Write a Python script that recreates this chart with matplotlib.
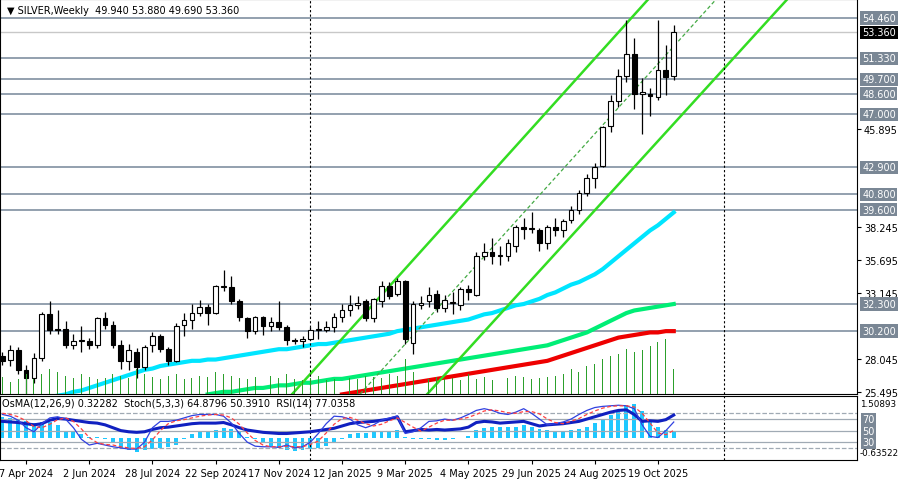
import numpy as np
import matplotlib.pyplot as plt
import matplotlib.transforms as mtransforms

# weekly SILVER candles
opens = [28.3, 28.0, 28.7, 27.2, 26.6, 28.1, 31.5, 30.4, 30.4, 29.1,
         29.4, 29.4, 29.1, 31.2, 30.7, 29.1, 27.9, 28.6, 27.4, 29.1,
         29.8, 28.8, 27.9, 30.7, 31.1, 31.6, 32.1, 31.6, 33.6, 33.6,
         32.5, 31.2, 30.2, 31.3, 30.6, 30.9, 30.5, 29.5, 29.4, 29.6,
         30.3, 30.3, 30.5, 31.3, 31.8, 32.2, 32.5, 31.2, 32.5, 33.7,
         33.1, 34.1, 29.3, 32.2, 32.5, 33.1, 32.0, 32.4, 32.2, 33.5,
         33.0, 36.0, 36.3, 36.0, 36.0, 36.8, 38.3, 38.1, 38.0, 37.0,
         38.3, 38.0, 38.8, 39.6, 40.9, 42.1, 43.0, 46.1, 48.0, 50.0,
         51.7, 48.6, 48.6, 48.3, 50.4, 49.94]
closes = [27.9, 28.7, 27.2, 26.6, 28.1, 31.5, 30.3, 30.3, 29.1, 29.4,
          29.4, 29.1, 31.2, 30.7, 29.1, 27.9, 28.7, 27.4, 29.0, 29.8,
          28.8, 27.9, 30.6, 31.1, 31.6, 32.1, 31.6, 33.7, 33.6, 32.5,
          31.3, 30.2, 31.3, 30.6, 30.9, 30.5, 29.5, 29.4, 29.6, 30.3,
          30.3, 30.5, 31.3, 31.8, 32.2, 32.4, 31.2, 32.7, 33.7, 32.9,
          34.1, 29.6, 32.3, 32.4, 33.0, 32.0, 32.6, 32.4, 33.5, 33.2,
          36.0, 36.3, 36.0, 36.0, 37.0, 38.3, 38.1, 38.1, 37.0, 38.3,
          38.0, 38.7, 39.6, 40.9, 42.1, 42.9, 46.0, 48.0, 50.0, 51.7,
          48.6, 48.7, 48.4, 50.4, 49.9, 53.36]
highs = [28.6, 29.1, 29.0, 27.6, 28.5, 31.7, 32.5, 31.8, 31.0, 30.0,
         30.6, 29.7, 31.3, 31.7, 31.0, 29.5, 29.2, 28.9, 29.1, 30.1,
         30.0, 29.0, 30.8, 31.6, 32.3, 32.6, 32.3, 33.8, 34.9, 34.5,
         32.7, 31.3, 31.4, 31.4, 31.3, 32.5, 30.7, 29.7, 29.8, 30.5,
         31.0, 31.0, 31.6, 32.3, 33.0, 32.9, 32.7, 32.8, 34.1, 34.0,
         34.3, 34.2, 32.5, 32.9, 33.6, 33.4, 33.0, 33.2, 33.6, 33.8,
         36.3, 37.0, 37.4, 36.8, 37.3, 38.4, 39.0, 39.4, 38.2, 38.4,
         39.0, 38.9, 39.9, 41.1, 42.4, 43.2, 46.1, 48.5, 50.5, 54.3,
         52.9, 49.8, 49.0, 54.3, 52.4, 53.88]
lows = [27.6, 27.5, 26.9, 25.3, 26.2, 27.9, 30.0, 30.0, 28.9, 28.8,
        28.6, 28.8, 28.9, 30.4, 28.9, 27.3, 27.2, 26.6, 27.2, 28.6,
        28.6, 27.6, 27.8, 29.8, 30.4, 31.4, 30.7, 31.5, 33.3, 32.3,
        31.0, 29.7, 30.0, 29.9, 30.2, 30.3, 29.1, 29.2, 29.0, 29.5,
        29.6, 30.1, 30.1, 30.9, 31.4, 31.9, 31.0, 30.9, 32.1, 32.7,
        32.9, 29.2, 28.4, 31.9, 32.1, 31.7, 31.7, 31.5, 31.8, 32.6,
        32.9, 35.7, 35.4, 35.3, 35.6, 36.3, 37.3, 37.8, 36.4, 36.6,
        37.6, 37.5, 38.6, 39.3, 40.7, 41.3, 42.9, 45.6, 47.6, 49.5,
        47.4, 45.5, 46.9, 48.1, 48.5, 49.69]
volume = [17, 12, 15, 20, 15, 20, 25, 22, 18, 16,
          20, 17, 15, 16, 20, 18, 16, 25, 20, 17,
          15, 18, 20, 15, 16, 18, 17, 22, 20, 18,
          16, 15, 17, 20, 18, 16, 20, 15, 14, 16,
          18, 14, 15, 17, 16, 15, 18, 17, 16, 20,
          18, 35, 22, 16, 15, 17, 15, 16, 14, 20,
          15, 17, 14, 15, 16, 18, 17, 15, 16, 17,
          18, 20, 25, 22, 28, 30, 35, 38, 40, 45,
          42, 44, 48, 52, 55, 25]
ma_cyan = [24.0, 24.2, 24.4, 24.6, 24.8, 25.0, 25.1, 25.2, 25.3, 25.5,
           25.6, 25.8, 26.0, 26.2, 26.4, 26.6, 26.8, 27.0, 27.2, 27.3,
           27.5, 27.6, 27.7, 27.8, 27.9, 27.9, 28.0, 28.0, 28.1, 28.2,
           28.3, 28.4, 28.5, 28.6, 28.7, 28.8, 28.8, 28.9, 29.0, 29.1,
           29.2, 29.2, 29.3, 29.4, 29.5, 29.6, 29.7, 29.8, 29.9, 30.0,
           30.2, 30.3, 30.4, 30.5, 30.6, 30.7, 30.8, 30.9, 31.0, 31.1,
           31.3, 31.5, 31.6, 31.8, 32.0, 32.2, 32.3, 32.5, 32.7, 33.0,
           33.2, 33.5, 33.8, 34.0, 34.3, 34.6, 35.0, 35.5, 36.0, 36.5,
           37.0, 37.5, 38.0, 38.4, 38.9, 39.4]
ma_green = [None] * 26 + [
    25.3, 25.4, 25.5, 25.5, 25.6, 25.7, 25.8, 25.8, 25.9, 26.0,
    26.0, 26.1, 26.2, 26.2, 26.3, 26.4, 26.5, 26.5, 26.6, 26.7,
    26.8, 26.9, 27.0, 27.1, 27.2, 27.3, 27.4, 27.5, 27.6, 27.7,
    27.8, 27.9, 28.0, 28.1, 28.2, 28.3, 28.4, 28.5, 28.6, 28.7,
    28.8, 28.9, 29.0, 29.1, 29.3, 29.5, 29.7, 29.9, 30.1, 30.4,
    30.7, 31.0, 31.3, 31.6, 31.8, 31.9, 32.0, 32.1, 32.2, 32.3]
ma_red = [None] * 43 + [
    25.3, 25.4, 25.5, 25.6, 25.7, 25.8, 25.9, 26.0, 26.1, 26.2,
    26.3, 26.4, 26.5, 26.6, 26.7, 26.8, 26.9, 27.0, 27.1, 27.2,
    27.3, 27.4, 27.5, 27.6, 27.7, 27.8, 27.9, 28.1, 28.3, 28.5,
    28.7, 28.9, 29.1, 29.3, 29.5, 29.7, 29.8, 29.9, 30.0, 30.1,
    30.1, 30.2, 30.2]
osma = [0.95, 0.9, 0.85, 0.75, 0.65, 0.7, 0.7, 0.55, 0.3, 0.25,
        0.15, 0.05, 0.02, -0.05, -0.2, -0.45, -0.55, -0.65, -0.55, -0.5,
        -0.45, -0.4, -0.3, -0.05, 0.15, 0.25, 0.3, 0.35, 0.45, 0.4,
        0.25, 0.05, -0.05, -0.25, -0.35, -0.45, -0.55, -0.6, -0.55, -0.5,
        -0.45, -0.35, -0.2, -0.05, 0.15, 0.2, 0.2, 0.25, 0.3, 0.3,
        0.35, 0.05, -0.05, -0.05, -0.05, -0.1, -0.1, -0.05, -0.02, 0.1,
        0.35, 0.45, 0.5, 0.5, 0.5, 0.5, 0.55, 0.5, 0.4, 0.35,
        0.3, 0.3, 0.35, 0.4, 0.5, 0.65, 0.8, 1.0, 1.2, 1.45,
        1.5, 1.2, 0.8, 0.5, 0.35, 0.32]
stoch_main = [78, 75, 68, 55, 48, 62, 72, 74, 70, 55,
              35, 25, 28, 25, 22, 20, 18, 18, 30, 55,
              66, 66, 68, 72, 76, 78, 78, 78, 75, 63,
              45, 30, 23, 22, 22, 21, 25, 20, 22, 30,
              45, 62, 75, 74, 70, 60, 55, 60, 68, 72,
              75, 45, 48, 55, 66, 67, 70, 68, 72, 78,
              85, 88, 85, 80, 78, 82, 88, 80, 70, 60,
              62, 65, 70, 78, 85, 90, 92, 93, 94, 93,
              88, 60, 40, 38, 50, 64.9]
stoch_signal = [80, 78, 74, 67, 57, 55, 61, 69, 72, 66,
                53, 38, 29, 26, 25, 22, 20, 19, 22, 34,
                50, 62, 67, 69, 72, 75, 77, 78, 77, 72,
                61, 46, 33, 25, 22, 22, 23, 22, 22, 26,
                32, 46, 61, 71, 73, 68, 62, 58, 61, 67,
                72, 64, 56, 49, 56, 63, 68, 68, 70, 73,
                78, 84, 86, 84, 81, 80, 83, 83, 79, 70,
                64, 62, 66, 71, 78, 84, 89, 92, 93, 93,
                91, 80, 63, 46, 43, 50.4]
rsi = [66, 65, 64, 62, 60, 62, 68, 71, 70, 68,
       66, 64, 63, 60, 55, 50, 48, 47, 48, 52,
       55, 56, 58, 60, 62, 63, 63, 63, 64, 60,
       55, 51, 49, 47, 46, 45, 45, 46, 47, 48,
       50, 52, 54, 58, 62, 64, 65, 66, 68, 70,
       74, 48, 50, 52, 51, 52, 51, 52, 53, 56,
       64, 66, 65, 63, 64, 65, 66, 62, 58, 60,
       61, 62, 64, 66, 70, 74, 78, 82, 85, 86,
       78, 66, 67, 66, 69, 77]

levels = [54.46, 51.33, 49.70, 48.60, 47.00, 42.90, 40.80, 39.60, 32.30, 30.20]
price_ticks = [25.495, 28.045, 33.145, 35.695, 38.245, 45.895]
date_idx = [3, 11, 19, 27, 35, 43, 51, 59, 67, 75, 83]
date_labels = ['7 Apr 2024', '2 Jun 2024', '28 Jul 2024', '22 Sep 2024', '17 Nov 2024',
               '12 Jan 2025', '9 Mar 2025', '4 May 2025', '29 Jun 2025', '24 Aug 2025',
               '19 Oct 2025']

# channel anchor points (index, price)
chan_upper = [(36.7, 25.33), (81.8, 55.93)]
chan_lower = [(53.8, 25.33), (99.4, 55.93)]
chan_mid = [(45.3, 25.33), (90.4, 55.93)]
separators = [39.0, 91.4]

plt.rcParams['font.family'] = 'DejaVu Sans'
fig = plt.figure(figsize=(9, 4.81), dpi=100)
ax = fig.add_axes([0.0, 86 / 481, 857 / 900, 395 / 481])
ax2 = fig.add_axes([0.0, 20 / 481, 857 / 900, 64 / 481])
XL = (-0.3, 108.2)

x = np.arange(len(closes))
o, c = np.array(opens), np.array(closes)

# volume in the bottom of the price panel
axv = ax.twinx()
axv.bar(x, volume, width=0.12, color='#2ca02c')
axv.set_ylim(0, 395)
axv.axis('off')

for lv in levels:
    ax.axhline(lv, color='#8a99a8', lw=1.3, zorder=1)
ax.axhline(53.36, color='#c8c8c8', lw=1, zorder=1)

ax.plot(x, ma_cyan, color='#00e5ff', lw=3, zorder=2)
ax.plot(x, np.array(ma_green, dtype=float), color='#00ee76', lw=3, zorder=2)
ax.plot(x, np.array(ma_red, dtype=float), color='#ee0000', lw=3, zorder=2)

for (x0, y0), (x1, y1) in [chan_upper, chan_lower]:
    ax.plot([x0, x1], [y0, y1], color='#33dd22', lw=1.8, zorder=2)
ax.plot(*zip(*chan_mid), color='#44aa44', lw=0.9, ls=(0, (3, 2)), zorder=2)

ax.vlines(x, lows, highs, color='black', lw=0.9, zorder=3)
body = np.maximum(np.abs(c - o), 0.08)
ax.bar(x, body, bottom=np.minimum(o, c), width=0.6,
       color=np.where(c >= o, 'white', 'black'), edgecolor='black', lw=0.8, zorder=4)

for s in separators:
    ax.axvline(s, color='black', lw=0.8, ls=(0, (2, 2)))
    ax2.axvline(s, color='black', lw=0.8, ls=(0, (2, 2)))

ax.set_xlim(*XL)
ax.set_ylim(25.33, 55.93)
ax.yaxis.tick_right()
ax.set_yticks(price_ticks)
ax.set_yticklabels([f'{t:.3f}' for t in price_ticks], fontsize=7)
ax.tick_params(axis='y', length=3, pad=2)
ax.set_xticks([])

tr = mtransforms.blended_transform_factory(ax.transAxes, ax.transData)
for lv in levels:
    ax.text(1.006, lv, f'{lv:.3f}', transform=tr, fontsize=7, color='white', va='center',
            bbox=dict(facecolor='#7a8795', edgecolor='none', pad=1.2))
ax.text(1.006, 53.36, '53.360', transform=tr, fontsize=7, color='white', va='center',
        bbox=dict(facecolor='black', edgecolor='none', pad=1.2))
ax.text(0.008, 0.985, '\u25bc SILVER,Weekly  49.940 53.880 49.690 53.360', transform=ax.transAxes,
        fontsize=7, va='top')

# indicator panel
ax2.set_xlim(*XL)
ax2.set_ylim(-0.95, 110)
axo = ax2.twinx()
axo.bar(x, osma, width=0.5, color='#1ec8ff')
axo.set_ylim(-0.992, 1.866)
axo.axis('off')
ax2.set_zorder(axo.get_zorder() + 1)
ax2.patch.set_visible(False)
for lv, st in [(80, '--'), (70, '-'), (50, '-'), (30, '-'), (20, '--')]:
    ax2.axhline(lv, color='#a0aab4', lw=0.9, ls=st)
ax2.plot(x, rsi, color='#1020c0', lw=2.2)
ax2.plot(x, stoch_main, color='#3040e0', lw=0.9)
ax2.plot(x, stoch_signal, color='#ff4040', lw=0.9, ls=(0, (3, 2)))
ax2.set_yticks([])
ax2.set_xticks(date_idx)
ax2.set_xticklabels(date_labels, fontsize=7)
ax2.tick_params(axis='x', length=3, pad=3)
ax2.text(0.002, 0.97, 'OsMA(12,26,9) 0.32282  Stoch(5,3,3) 64.8796 50.3910  RSI(14) 77.0358',
         transform=ax2.transAxes, fontsize=7, va='top')
tr2 = mtransforms.blended_transform_factory(ax2.transAxes, ax2.transData)
for lv in (70, 50, 30):
    ax2.text(1.006, lv, str(lv), transform=tr2, fontsize=7, color='white', va='center',
             bbox=dict(facecolor='#7a8795', edgecolor='none', pad=1))
ax2.text(1.003, 0.88, '1.50893', transform=ax2.transAxes, fontsize=6.3, va='center')
ax2.text(1.003, 0.12, '-0.63522', transform=ax2.transAxes, fontsize=6.3, va='center')

for a in (ax, ax2):
    for sp in a.spines.values():
        sp.set_color('black')

fig.savefig('out.png', dpi=100)
